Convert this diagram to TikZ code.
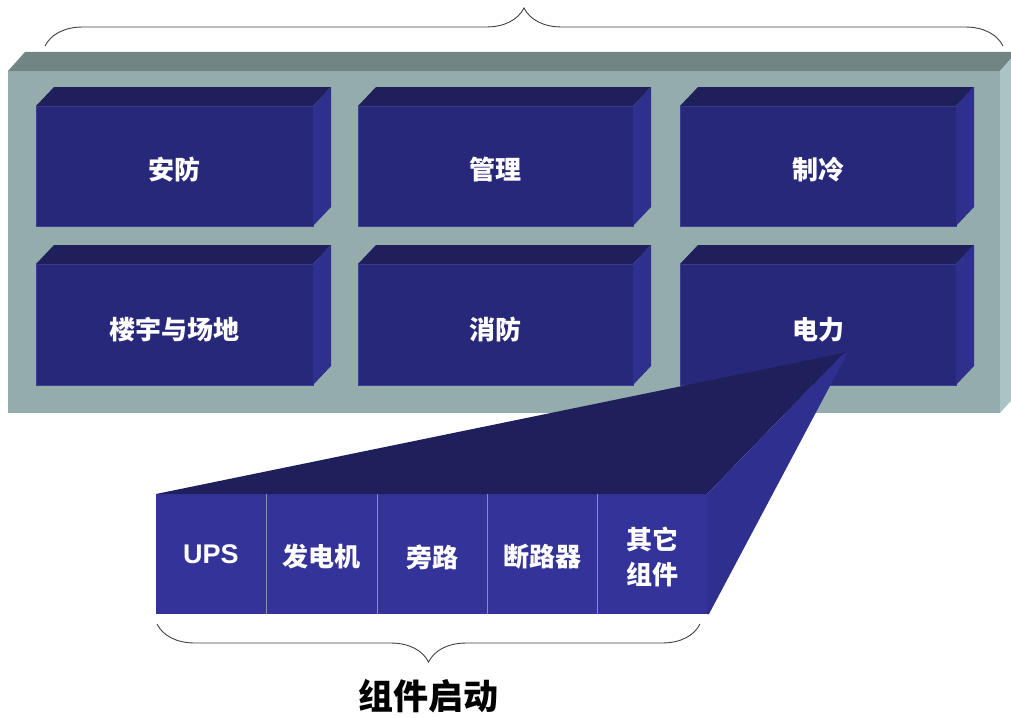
\documentclass[tikz,border=0pt]{standalone}
\usepackage{fontspec}
\setmainfont{Liberation Sans}[BoldFont={Liberation Sans Bold}]
\newfontfamily\cjk{Noto Sans CJK SC}
\usetikzlibrary{decorations.pathreplacing}
\definecolor{frameF}{HTML}{94ACAC}
\definecolor{frameT}{HTML}{718585}
\definecolor{frameR}{HTML}{A8C4C6}
\definecolor{blkF}{HTML}{28287A}
\definecolor{blkT}{HTML}{1F1F5C}
\definecolor{blkR}{HTML}{2F2F8E}
\definecolor{blkE}{HTML}{3E3E90}
\definecolor{cellF}{HTML}{333399}
\definecolor{callT}{HTML}{1F1F5C}
\definecolor{callR}{HTML}{2F2F8F}
\definecolor{divC}{HTML}{8C8CB8}
\definecolor{braceC}{HTML}{404040}
\tikzset{
  blockfront/.style={fill=blkF, draw=blkE, line width=0.6pt, inner sep=0pt, outer sep=0pt,
    minimum width=277pt, minimum height=120pt},
  whitelabel/.style={text=white, inner sep=0pt, align=center, yshift=-4pt,
    font=\cjk\bfseries\fontsize{26}{35}\selectfont},
  cellbox/.style={fill=cellF, inner sep=0pt, outer sep=0pt, minimum height=120pt},
  divider/.style={draw=divC, line width=0.8pt},
  bracestyle/.style={draw=braceC, line width=0.9pt, decorate, decoration={brace, amplitude=38pt}},
}
\newcommand\blockfaces[1]{%
  \fill[blkT] (#1.north west) -- ++(18,-19) -- ([shift={(18,-19)}]#1.north east) -- (#1.north east) -- cycle;
  \fill[blkR] (#1.north east) -- ([shift={(18,-19)}]#1.north east) -- ([shift={(18,-19)}]#1.south east) -- (#1.south east) -- cycle;
}
\begin{document}
\begin{tikzpicture}[x=1pt,y=-1pt]
\useasboundingbox (0,0) rectangle (1011,717);
% frame
\coordinate (fTL) at (8,71);
\coordinate (fBR) at (1000,413);
\fill[frameF] (fTL) rectangle (fBR);
\fill[frameT] (fTL) -- ++(17,-19) -- (1017,52) -- (1000,71) -- cycle;
\fill[frameR] (1000,71) -- (1017,52) -- (1017,394) -- (fBR) -- cycle;
% blocks row 1
\node[blockfront, label={[whitelabel]center:安防}] (b1) at (174.5,166) {};
\node[blockfront, minimum width=275pt, label={[whitelabel]center:管理}] (b2) at (495.5,166) {};
\node[blockfront, minimum width=276pt, label={[whitelabel]center:制冷}] (b3) at (818,166) {};
% blocks row 2
\node[blockfront, minimum height=121pt, label={[whitelabel, yshift=-1pt]center:楼宇与场地}] (b4) at (174.5,324.5) {};
\node[blockfront, minimum width=275pt, minimum height=121pt, label={[whitelabel, yshift=-1pt]center:消防}] (b5) at (495.5,324.5) {};
\node[blockfront, minimum width=276pt, minimum height=121pt, label={[whitelabel, yshift=-1pt]center:电力}] (b6) at (818,324.5) {};
\blockfaces{b1}\blockfaces{b2}\blockfaces{b3}
\blockfaces{b4}\blockfaces{b5}\blockfaces{b6}
% callout
\coordinate (apexI) at (842,355);
\coordinate (apexO) at (848,352);
\node[cellbox, minimum width=110pt, label={[whitelabel, yshift=4pt, font=\bfseries\fontsize{27}{30}\selectfont]center:UPS}] (c1) at (211,554) {};
\node[cellbox, minimum width=111pt, label={[whitelabel, yshift=1pt]center:发电机}] (c2) at (321.5,554) {};
\node[cellbox, minimum width=110pt, label={[whitelabel, yshift=1pt]center:旁路}] (c3) at (432,554) {};
\node[cellbox, minimum width=110pt, label={[whitelabel, yshift=1pt]center:断路器}] (c4) at (542,554) {};
\node[cellbox, minimum width=110pt, label={[whitelabel, yshift=1pt]center:其它\\组件}] (c5) at (652,554) {};
\fill[callT] (c1.north west) -- (apexO) -- (apexI) -- (c5.north east) -- cycle;
\fill[callR] (c5.north east) -- (apexI) -- (apexO) -- ([xshift=2pt]c5.south east) -- (c5.south east) -- cycle;
\draw[divider] (c1.north east) -- (c1.south east);
\draw[divider] (c2.north east) -- (c2.south east);
\draw[divider] (c3.north east) -- (c3.south east);
\draw[divider] (c4.north east) -- (c4.south east);
% braces
\coordinate (tbL) at (45,46);
\coordinate (tbR) at (1003,46);
\draw[bracestyle] (tbL) -- (tbR);
\coordinate (bbL) at (157,624);
\coordinate (bbR) at (700,624);
\draw[bracestyle] (bbR) -- (bbL);
\node[font=\cjk\bfseries\fontsize{35}{40}\selectfont, text=black] (title) at (428,696) {组件启动};
\end{tikzpicture}
\end{document}
